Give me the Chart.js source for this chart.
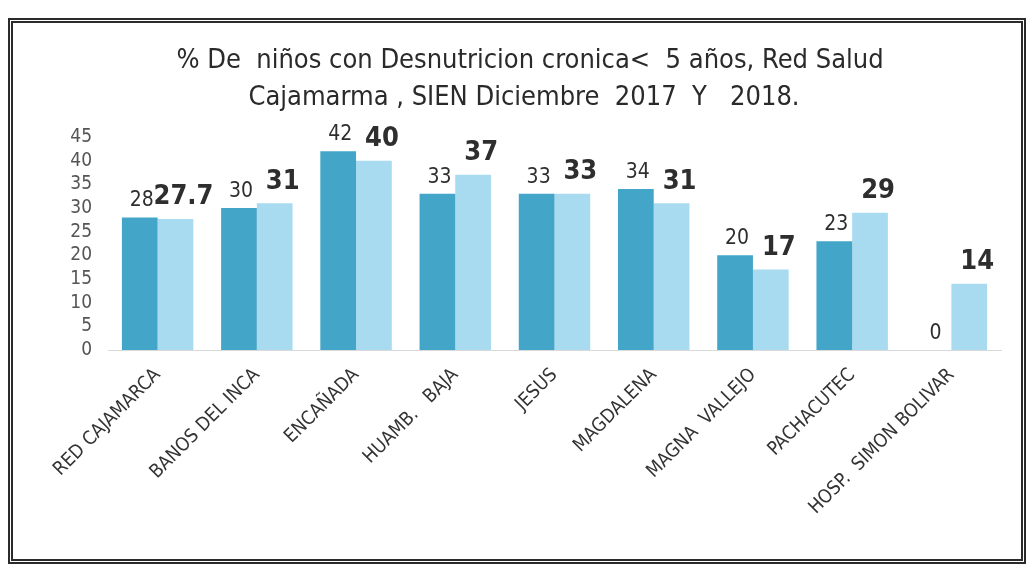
<!DOCTYPE html>
<html>
<head>
<meta charset="utf-8">
<script src="https://cdn.jsdelivr.net/npm/chart.js@4.4.1/dist/chart.umd.min.js"></script>
<style>
  html, body { margin: 0; padding: 0; background: #fff; }
  #wrap { position: relative; width: 1033px; height: 572px; overflow: hidden; }
  #frame { position: absolute; left: 8px; top: 18px; width: 1018px; height: 546px; border: 5px double #2b2b2b; box-sizing: border-box; }
  canvas { position: absolute; left: 0; top: 0; }
</style>
</head>
<body>
<div id="wrap">
  <div id="frame"></div>
  <canvas id="c" width="1033" height="572"></canvas>
</div>
<script>
const titleLines = ["% De  niños con Desnutricion cronica<  5 años, Red Salud", "Cajamarma , SIEN Diciembre  2017  Y   2018."];
const categories = ["RED CAJAMARCA", "BANOS DEL INCA", "ENCAÑADA", "HUAMB.   BAJA", "JESUS", "MAGDALENA", "MAGNA  VALLEJO", "PACHACUTEC", "HOSP.  SIMON BOLIVAR"];
const values2017 = [28, 30, 42, 33, 33, 34, 20, 23, 0];
const values2018 = [27.7, 31, 40, 37, 33, 31, 17, 29, 14];
const yMin = 0, yMax = 45, yStep = 5;

const FONT = "'Liberation Sans Narrow', 'DejaVu Sans Condensed', 'Open Sans', sans-serif";

const titlePlugin = {
  id: 'titleText',
  afterDraw(chart) {
    const ctx = chart.ctx;
    ctx.save();
    ctx.fillStyle = '#2a2a2a';
    ctx.font = "27px " + FONT;
    ctx.textAlign = 'center';
    ctx.textBaseline = 'middle';
    ctx.fillText(titleLines[0], 530, 61);
    ctx.fillText(titleLines[1], 524, 98);
    ctx.restore();
  }
};

const labelPlugin = {
  id: 'valueLabels',
  afterDatasetsDraw(chart) {
    const ctx = chart.ctx;
    ctx.save();
    ctx.textAlign = 'center';
    ctx.textBaseline = 'bottom';
    chart.data.datasets.forEach((ds, di) => {
      const meta = chart.getDatasetMeta(di);
      meta.data.forEach((el, i) => {
        const v = ds.data[i];
        if (di === 0) {
          ctx.font = "21px " + FONT;
          ctx.fillStyle = '#2e2e2e';
          ctx.fillText(String(v), el.x + 2, el.y - 6);
        } else {
          ctx.font = "bold 27px " + FONT;
          ctx.fillStyle = '#2e2e2e';
          ctx.fillText(String(v), el.x + 8, el.y - 8);
        }
      });
    });
    ctx.restore();
  }
};

new Chart(document.getElementById('c'), {
  type: 'bar',
  data: {
    labels: categories,
    datasets: [
      { label: '2017', data: values2017, backgroundColor: '#43a5c7', borderWidth: 0, categoryPercentage: 0.72, barPercentage: 1.0 },
      { label: '2018', data: values2018, backgroundColor: '#a8daf0', borderWidth: 0, categoryPercentage: 0.72, barPercentage: 1.0 }
    ]
  },
  options: {
    responsive: false,
    animation: false,
    layout: { padding: { top: 137, left: 20, right: 32, bottom: 10 } },
    plugins: { legend: { display: false }, title: { display: false }, tooltip: { enabled: false } },
    scales: {
      x: {
        grid: { display: false },
        border: { display: true, color: '#d9d9d9', width: 1 },
        ticks: { autoSkip: false, maxRotation: 45, minRotation: 45, padding: 6, color: '#333', font: { family: FONT, size: 19 } },
        afterFit(scale) { scale.height = 212; }
      },
      y: {
        min: yMin, max: yMax,
        grid: { display: false },
        border: { display: false },
        ticks: { autoSkip: false, stepSize: yStep, padding: 8, color: '#555', font: { family: FONT, size: 19 } },
        afterFit(scale) { scale.width = 88; }
      }
    }
  },
  plugins: [titlePlugin, labelPlugin]
});
</script>
</body>
</html>
